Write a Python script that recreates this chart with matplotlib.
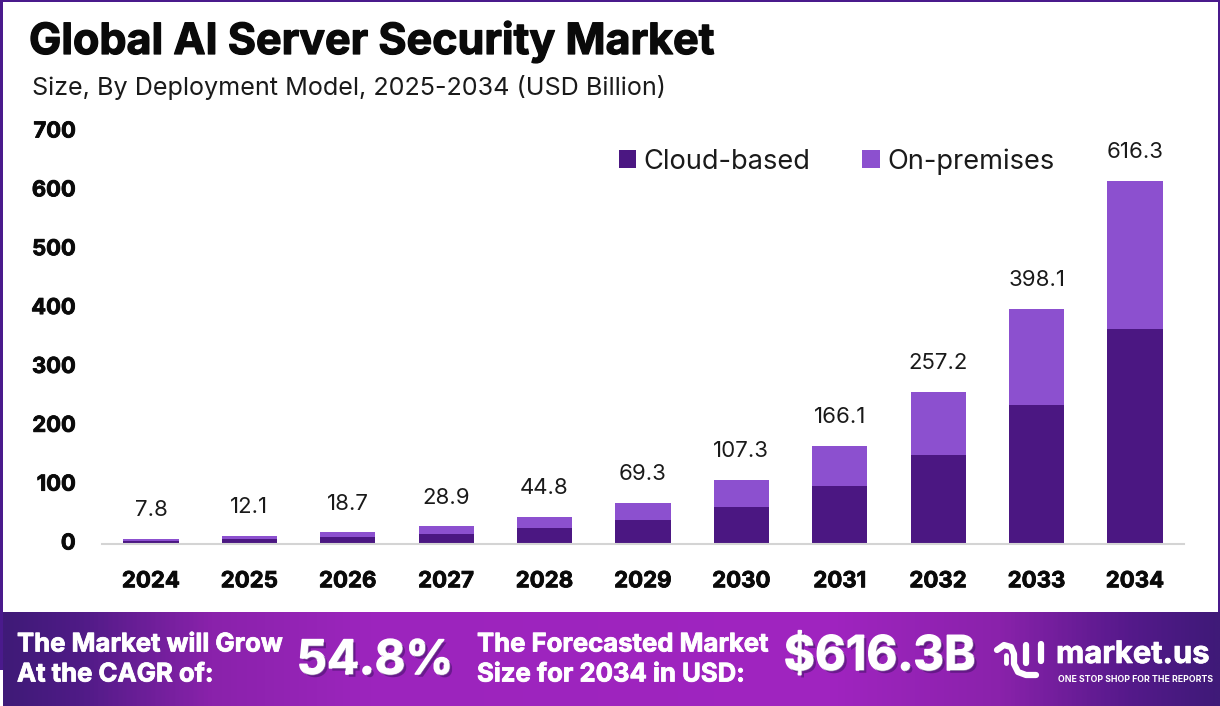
import numpy as np
import matplotlib
matplotlib.use('Agg')
import matplotlib.pyplot as plt
import matplotlib.patheffects as pe
from matplotlib.colors import LinearSegmentedColormap
from matplotlib.patches import Rectangle
from matplotlib.transforms import ScaledTranslation

plt.rcParams['font.family'] = ['Inter', 'DejaVu Sans']

years = ['2024', '2025', '2026', '2027', '2028', '2029', '2030', '2031', '2032', '2033', '2034']
totals = [7.8, 12.1, 18.7, 28.9, 44.8, 69.3, 107.3, 166.1, 257.2, 398.1, 616.3]
cloud = [4.4, 6.9, 10.8, 16.8, 25.7, 40.0, 62.0, 97.0, 150.0, 235.0, 364.0]
on_prem = [t - c for t, c in zip(totals, cloud)]
y_ticks = [0, 100, 200, 300, 400, 500, 600, 700]

W, H = 1220, 706
DARK = '#4b1782'
LIGHT = '#8c50cf'
BORDER = '#4a1a8c'


def px_axes(fig, left, top, right, bottom, **kw):
    return fig.add_axes([left / W, 1 - bottom / H, (right - left) / W, (bottom - top) / H], **kw)


def heavy(width, color):
    return [pe.withStroke(linewidth=width, foreground=color)]


fig = plt.figure(figsize=(W / 100, H / 100), dpi=100)

# whole figure overlay in pixel coords, for border and banner
bg = px_axes(fig, 0, 0, W, H)
bg.set_xlim(0, W)
bg.set_ylim(H, 0)
bg.axis('off')
bg.add_patch(Rectangle((0, 0), W, 2, color=BORDER, lw=0))
bg.add_patch(Rectangle((0, 0), 2.5, 670, color=BORDER, lw=0))
bg.add_patch(Rectangle((W - 2.5, 0), 2.5, 615, color=BORDER, lw=0))

grad = LinearSegmentedColormap.from_list('band', [
    (0.0, '#3f1a78'), (0.06, '#4f1b86'), (0.17, '#8a22ab'), (0.30, '#9c25bd'),
    (0.68, '#a024c0'), (0.82, '#8a22ab'), (0.93, '#54198a'), (1.0, '#3f1a78')])
bg.imshow(np.linspace(0, 1, 600).reshape(1, -1), cmap=grad, aspect='auto',
          extent=(3, W, H, 612), zorder=1)
bg.set_xlim(0, W)
bg.set_ylim(H, 0)

shadow = [pe.withStroke(linewidth=1.2, foreground='white'),
          pe.withSimplePatchShadow(offset=(2, -2), shadow_rgbFace='#3a1060', alpha=0.5), pe.Normal()]

bg.text(29, 41.5, 'Global AI Server Security Market', fontsize=31, fontweight='bold', color='#0a0a0a',
        va='center', path_effects=heavy(0.9, '#0a0a0a'))
bg.text(32, 88, 'Size, By Deployment Model, 2025-2034 (USD Billion)', fontsize=18.1, color='#1a1a1a', va='center')

for px, py, txt in [(17, 645, 'The Market will Grow'), (17, 675, 'At the CAGR of:'),
                    (477, 645, 'The Forecasted Market'), (477, 675, 'Size for 2034 in USD:')]:
    bg.text(px, py, txt, fontsize=18.5, fontweight='bold', color='white', va='center', zorder=3,
            path_effects=heavy(0.6, 'white'))
bg.text(297, 662, '54.8%', fontsize=34, fontweight='bold', color='white', va='center', zorder=3, path_effects=shadow)
bg.text(784, 658, '$616.3B', fontsize=34.3, fontweight='bold', color='white', va='center', zorder=3, path_effects=shadow)
bg.text(1056, 655, 'market.us', fontsize=22.3, fontweight='bold', color='white', va='center', zorder=3,
        path_effects=heavy(0.5, 'white'))
bg.text(1058, 680, 'ONE STOP SHOP FOR THE REPORTS', fontsize=6.3, fontweight='bold', color='white', va='center', zorder=3)

# logo mark
logo = dict(color='white', zorder=3, solid_capstyle='round', solid_joinstyle='round')
bg.plot([997, 1004, 1011, 1014, 1014, 1018, 1026, 1036], [650, 645, 647, 654, 664, 672, 675, 675], lw=4.5, **logo)
bg.plot([1006, 1006], [655, 663], lw=3.5, **logo)
bg.plot([1026, 1026], [645, 663], lw=4.5, **logo)
bg.plot([1041, 1041], [644, 661], lw=4.5, **logo)
bg.plot([996, 996], [663, 663], lw=3.5, **logo)

ax = px_axes(fig, 102, 131.5, 1184, 543.5)
ax.patch.set_alpha(0)
x = np.arange(len(years))
ax.bar(x, cloud, width=0.56, color=DARK, label='Cloud-based')
ax.bar(x, on_prem, bottom=cloud, width=0.56, color=LIGHT, label='On-premises')

for xi, t in zip(x, totals):
    ax.annotate(f'{t}', (xi, t), xytext=(0, 20.8), textcoords='offset points',
                ha='center', va='center', fontsize=16, color='#1a1a1a')

ax.set_xlim(-0.498, 10.498)
ax.set_ylim(0, 700)
ax.set_xticks(x, years)
ax.set_yticks(y_ticks)
ax.tick_params(axis='both', length=0)
ax.tick_params(axis='x', pad=20, labelsize=16)
ax.tick_params(axis='y', pad=19, labelsize=15.8)
for lab in ax.get_xticklabels() + ax.get_yticklabels():
    lab.set_fontweight('bold')
    lab.set_color('#0a0a0a')
    lab.set_path_effects(heavy(0.6, '#0a0a0a'))
# labels sit a touch above their ticks in the original
up = ScaledTranslation(0, 2 / 100, fig.dpi_scale_trans)
for lab in ax.get_yticklabels():
    lab.set_transform(lab.get_transform() + up)
for s in ['top', 'left', 'right']:
    ax.spines[s].set_visible(False)
ax.spines['bottom'].set_color('#d4d4d4')
ax.spines['bottom'].set_linewidth(1.5)

ax.legend(loc='center', bbox_to_anchor=(836.5 / W, 1 - 161.5 / H), bbox_transform=fig.transFigure,
          ncol=2, frameon=False, fontsize=19.6, handlelength=0.65, handleheight=0.65,
          handletextpad=0.26, columnspacing=1.9, labelcolor='#1a1a1a')

fig.savefig('out.png', dpi=100)
